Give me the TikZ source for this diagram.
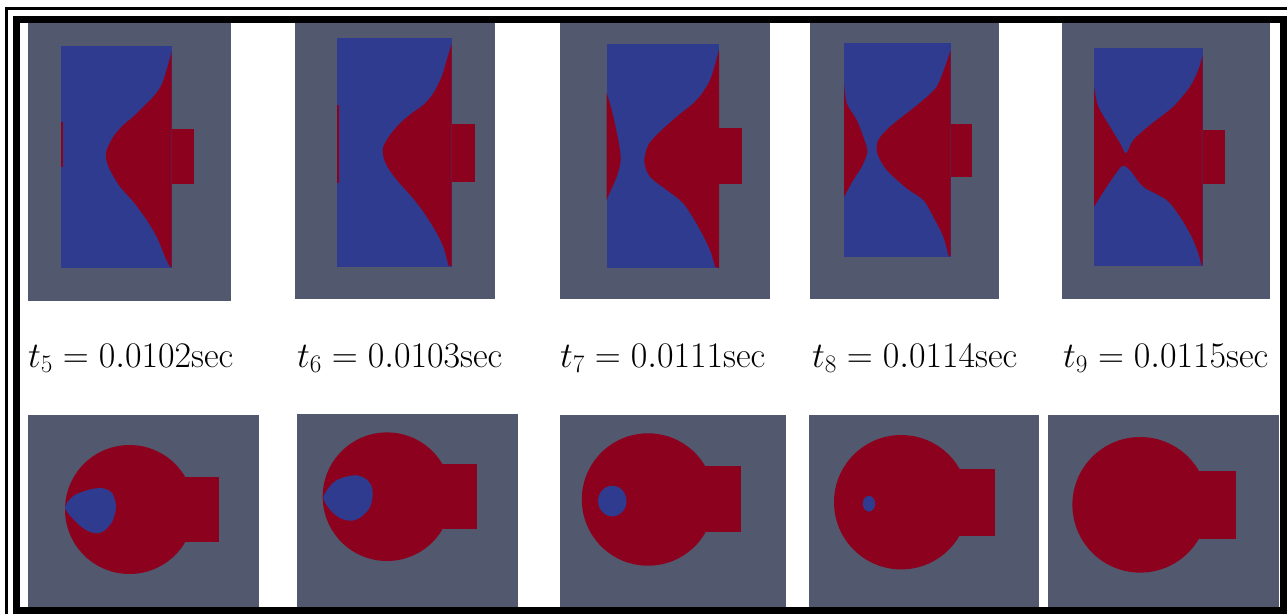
\RequirePackage{fix-cm}
\documentclass[tikz,border=0pt]{standalone}
\definecolor{vgray}{RGB}{82,88,110}
\definecolor{vblue}{RGB}{47,59,143}
\definecolor{vred}{RGB}{140,2,30}
\begin{document}
\begin{tikzpicture}[x=1pt,y=-1pt,
	bg/.style={fill=vgray},
	gas/.style={fill=vblue},
	liquid/.style={fill=vred},
	tlabel/.style={anchor=base west,inner sep=0pt,font=\fontsize{36}{40}\selectfont}]
	\useasboundingbox[fill=white] (0,0) rectangle (1287,613);

	% top row: channel with side outlet
	\fill[bg] (28,22.7) rectangle (231,301);
	\fill[gas] (61.3,46) rectangle (171.7,267.7);
	\fill[liquid] (171.7,129.3) rectangle (194,184.3);
	\fill[liquid] (61.3,122) rectangle (62.6,167);
	\fill[liquid] plot[smooth] coordinates {(171.7,51.7) (162.3,83.3) (153.3,96.7) (143.3,106.7) (133.3,116.7) (123.3,125) (113.3,136.7) (106.7,150) (106,158.3) (110,170) (120,186.7) (133.3,201.7) (146.7,220) (156.7,236.7) (165,256.7) (170,266.7)} -- (171.7,267.7) -- cycle;

	\fill[bg] (295,22.7) rectangle (495,299);
	\fill[gas] (337.3,37.7) rectangle (451.7,266.7);
	\fill[liquid] (451.7,124) rectangle (475,181.7);
	\fill[liquid] (337.3,105) rectangle (339.3,183);
	\fill[liquid] plot[smooth] coordinates {(451.7,43.3) (446.7,60) (441.7,76.7) (433.3,93.3) (423.3,105) (411.7,113.3) (400,123.3) (390,135) (383.3,146.7) (383.3,156.7) (388.3,168.3) (398.3,181.7) (411.7,196.7) (423.3,211.7) (435,230) (443.3,246.7) (448.3,265)} -- (451.7,266.7) -- cycle;

	\fill[bg] (560,22.7) rectangle (770,299);
	\fill[gas] (606.7,43.7) rectangle (719,268.3);
	\fill[liquid] (719,128.3) rectangle (741.7,184.3);
	\fill[liquid] plot[smooth] coordinates {(719,50) (710,80) (696.7,100) (676.7,116.7) (660,131.7) (648.3,145) (644.3,161.7) (650,176.7) (666.7,190) (683.3,203.3) (698.3,226.7) (710,250) (715,266.7)} -- (719,268.3) -- cycle;
	\fill[liquid] plot[smooth] coordinates {(606.7,93.3) (611.7,110) (618.3,140) (620.7,160) (616.7,176.7) (610,192) (606.7,200)} -- cycle;

	\fill[bg] (810,22.7) rectangle (999,299);
	\fill[gas] (844,43.3) rectangle (950.7,256.7);
	\fill[liquid] (950.7,124) rectangle (971.7,176.7);
	\fill[liquid] plot[smooth] coordinates {(950.7,50) (945,66.7) (936.7,86.7) (923.3,100) (906.7,113.3) (890,126.7) (878.3,140) (877.3,153.3) (886.7,170) (906.7,188.3) (923.3,200) (933.3,216.7) (943.3,236.7) (948.3,255)} -- (950.7,256.7) -- cycle;
	\fill[liquid] plot[smooth] coordinates {(844,83.3) (846.7,103.3) (856.7,120) (863.3,136.7) (867.3,151.7) (861.7,166.7) (853.3,180) (844,196.7)} -- cycle;

	\fill[bg] (1062,22.7) rectangle (1270,299);
	\fill[gas] (1094,48.3) rectangle (1202.7,265.7);
	\fill[liquid] (1202.7,130) rectangle (1225,184.3);
	\fill[liquid] plot[smooth] coordinates {(1094,86.7) (1098.3,106.7) (1110,126.7) (1120,143.3) (1126,153.3) (1133.3,140) (1150,125) (1173.3,106.7) (1190,86.7) (1198.3,70) (1202.7,55)} -- (1202.7,265.7) -- plot[smooth] coordinates {(1201.7,265.7) (1198.3,253.3) (1191.7,236.7) (1180,216.7) (1166.7,200) (1143.3,186.7) (1130,170) (1123.3,165.7) (1118.3,170) (1106.7,186.7) (1094,206.7)} -- cycle;

	% times
	\node[tlabel] (t5) at (28,367) {$t_{5} = 0.0102\mathrm{sec}$};
	\node[tlabel] (t6) at (297,367) {$t_{6} = 0.0103\mathrm{sec}$};
	\node[tlabel] (t7) at (560,367) {$t_{7} = 0.0111\mathrm{sec}$};
	\node[tlabel] (t8) at (812,367) {$t_{8} = 0.0114\mathrm{sec}$};
	\node[tlabel] (t9) at (1063,367) {$t_{9} = 0.0115\mathrm{sec}$};

	% bottom row: round chamber with outlet
	\fill[bg] (28,415) rectangle (259,606.7);
	\fill[liquid] (129.5,509.5) circle[radius=64.5pt];
	\fill[liquid] (129.5,477.3) rectangle (219,541.7);
	\fill[gas] plot[smooth cycle] coordinates {(65,508) (72,497) (80,492.7) (92,489) (103,488.3) (112,493) (116,506) (112.5,521) (104,531) (96,533.3) (86,530) (76,522)};

	\fill[bg] (296.7,414) rectangle (517.7,606.7);
	\fill[liquid] (387,496.7) circle[radius=64.3pt];
	\fill[liquid] (387,464.3) rectangle (477.3,529);
	\fill[gas] plot[smooth cycle] coordinates {(323.3,496.7) (330,486) (337,480) (347,476.5) (357,475.3) (366,479) (371.5,486) (372.7,496) (369.5,508) (361,517) (352,520.7) (342,519) (333,513) (326,504)};

	\fill[bg] (560,415) rectangle (786,606.7);
	\fill[liquid] (648,499.5) circle[radius=66.2pt];
	\fill[liquid] (648,466) rectangle (740.7,532.3);
	\fill[gas] (612.3,501) ellipse[x radius=14.2pt,y radius=15.3pt];

	\fill[bg] (809,415) rectangle (1038.7,606.7);
	\fill[liquid] (901.2,502.2) circle[radius=67.2pt];
	\fill[liquid] (901.2,469) rectangle (995,536);
	\fill[gas] (869,503.7) ellipse[x radius=6.2pt,y radius=7.8pt];

	\fill[bg] (1048,415) rectangle (1279,606.7);
	\fill[liquid] (1140.2,504.8) circle[radius=67.8pt];
	\fill[liquid] (1140.2,471) rectangle (1235.7,538.7);

	% double frame
	\draw[line width=3pt] (6.7,8.5) rectangle (1310,640);
	\draw[line width=7pt] (16.3,19) rectangle (1283,610.5);
\end{tikzpicture}
\end{document}
